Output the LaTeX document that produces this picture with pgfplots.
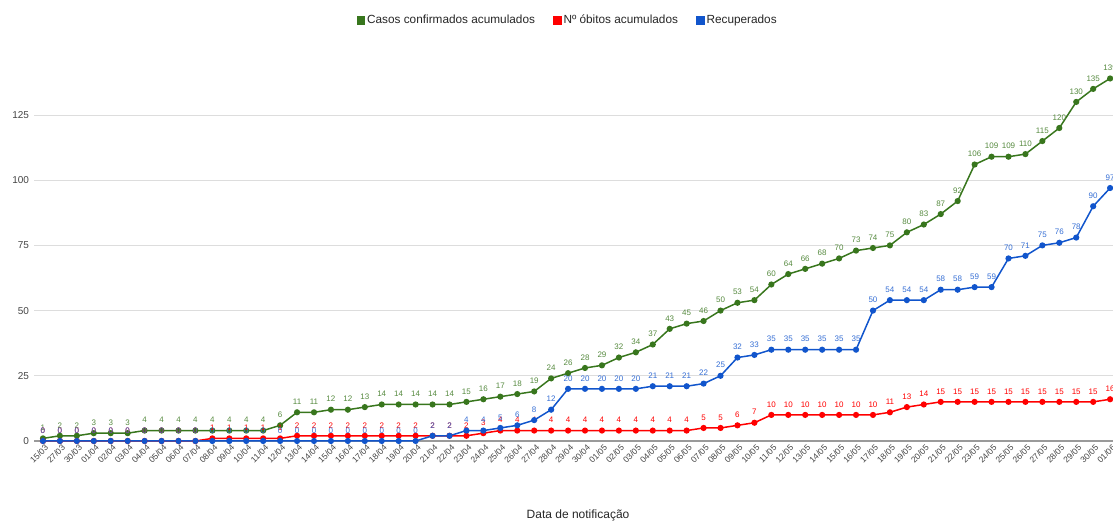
\documentclass[border=0pt]{standalone}
\usepackage{fontspec}
\setmainfont{Liberation Sans}
\usepackage{pgfplots}
\usepackage{pgfplotstable}
\pgfplotsset{compat=1.18}

\definecolor{verde}{HTML}{38761D}
\definecolor{vermelho}{HTML}{FF0000}
\definecolor{azul}{HTML}{1155CC}
\definecolor{grade}{HTML}{DDDDDD}
\definecolor{eixo}{HTML}{9A9A9A}
\definecolor{texto}{HTML}{444444}

% idx conf obitos recup
\pgfplotstableread{
idx conf obitos recup
0 1 0 0
1 2 0 0
2 2 0 0
3 3 0 0
4 3 0 0
5 3 0 0
6 4 0 0
7 4 0 0
8 4 0 0
9 4 0 0
10 4 1 0
11 4 1 0
12 4 1 0
13 4 1 0
14 6 1 0
15 11 2 0
16 11 2 0
17 12 2 0
18 12 2 0
19 13 2 0
20 14 2 0
21 14 2 0
22 14 2 0
23 14 2 2
24 14 2 2
25 15 2 4
26 16 3 4
27 17 4 5
28 18 4 6
29 19 4 8
30 24 4 12
31 26 4 20
32 28 4 20
33 29 4 20
34 32 4 20
35 34 4 20
36 37 4 21
37 43 4 21
38 45 4 21
39 46 5 22
40 50 5 25
41 53 6 32
42 54 7 33
43 60 10 35
44 64 10 35
45 66 10 35
46 68 10 35
47 70 10 35
48 73 10 35
49 74 10 50
50 75 11 54
51 80 13 54
52 83 14 54
53 87 15 58
54 92 15 58
55 106 15 59
56 109 15 59
57 109 15 70
58 110 15 71
59 115 15 75
60 120 15 76
61 130 15 78
62 135 15 90
63 139 16 97
}\dados

\begin{document}
\begin{tikzpicture}
\begin{axis}[
  at={(34.5pt,80pt)}, anchor=south west,
  scale only axis, width=1092.6pt, height=386pt,
  xmin=-0.5, xmax=64, ymin=0, ymax=148,
  clip=false,
  axis line style={draw=none},
  major tick length=0pt,
  ytick={25,50,75,100,125},
  extra y ticks={0},
  extra y tick style={grid style={eixo, line width=1.4pt}},
  ymajorgrids, grid style={grade, line width=0.8pt},
  xtick={0,...,63},
  xticklabels={15/03,27/03,30/03,
    01/04,02/04,03/04,04/04,05/04,06/04,07/04,08/04,09/04,10/04,
    11/04,12/04,13/04,14/04,15/04,16/04,17/04,18/04,19/04,20/04,
    21/04,22/04,23/04,24/04,25/04,26/04,27/04,28/04,29/04,30/04,
    01/05,02/05,03/05,04/05,05/05,06/05,07/05,08/05,09/05,10/05,
    11/05,12/05,13/05,14/05,15/05,16/05,17/05,18/05,19/05,20/05,
    21/05,22/05,23/05,24/05,25/05,26/05,27/05,28/05,29/05,30/05,
    01/06},
  x tick label style={rotate=45, anchor=north east, yshift=-2pt,
    font=\fontsize{8.5}{9}\selectfont, text=texto, inner sep=1pt},
  y tick label style={font=\fontsize{10}{12}\selectfont, text=texto, xshift=-2pt},
  /pgf/number format/assume math mode=true,
  xlabel={Data de notificação},
  xlabel style={at={(axis description cs:0.4975,-0.1917)}, anchor=center,
    font=\fontsize{12}{14}\selectfont, text=black!85},
  legend style={at={(0.488,1.09)}, anchor=center, draw=none,
    legend columns=-1, font=\fontsize{11.8}{14}\selectfont, text=black!85,
    /tikz/every even column/.append style={column sep=16pt}},
  legend image code/.code={\fill[#1] (0pt,-3.5pt) rectangle (7pt,3.5pt);},
  nodes near coords,
  every node near coord/.append style={font=\fontsize{8}{9}\selectfont,
    anchor=south, yshift=6pt, inner sep=1pt},
]
\addplot[verde, line width=1.5pt, mark=*, mark size=2.3pt,
  every node near coord/.append style={text=verde!85}]
  table[x=idx, y=conf]{\dados};
\addplot[vermelho, line width=1.5pt, mark=*, mark size=2.3pt,
  every node near coord/.append style={text=vermelho}]
  table[x=idx, y=obitos]{\dados};
\addplot[azul, line width=1.5pt, mark=*, mark size=2.3pt,
  every node near coord/.append style={text=azul!85}]
  table[x=idx, y=recup]{\dados};
\legend{Casos confirmados acumulados, Nº óbitos acumulados, Recuperados}
\end{axis}
\pgfresetboundingbox
\path[use as bounding box] (0,0) rectangle (1113pt,521pt);
\end{tikzpicture}
\end{document}
